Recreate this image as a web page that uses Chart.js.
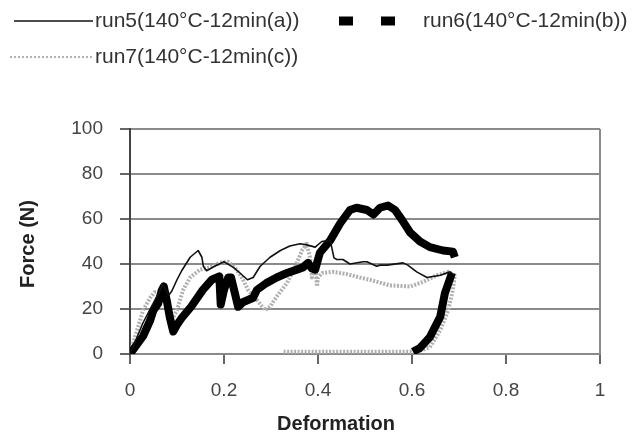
<!DOCTYPE html>
<html>
<head>
<meta charset="utf-8">
<script src="https://cdn.jsdelivr.net/npm/chart.js@4.4.1/dist/chart.umd.min.js"></script>
<style>
  html, body { margin: 0; padding: 0; background: #fff; }
  #wrap { width: 632px; height: 434px; position: relative; }
</style>
</head>
<body>
<div id="wrap"><canvas id="chart"></canvas></div>
<script>
// 軸の目盛
const xTicks = [0, 0.2, 0.4, 0.6, 0.8, 1];
const yTicks = [0, 20, 40, 60, 80, 100];

// 系列名（凡例）
const seriesNames = [
    "run5(140°C-12min(a))",
    "run6(140°C-12min(b))",
    "run7(140°C-12min(c))",
];

// run5 : 細い実線
const run5X = [0, 0.028, 0.053, 0.064, 0.068, 0.075, 0.082, 0.089, 0.1, 0.11, 0.128, 0.145, 0.153, 0.156, 0.163, 0.18, 0.2, 0.22, 0.234, 0.25, 0.262, 0.277, 0.298, 0.32, 0.34, 0.362, 0.376, 0.394, 0.408, 0.426, 0.434, 0.44, 0.453, 0.468, 0.496, 0.504, 0.525, 0.532, 0.547, 0.581, 0.591, 0.61, 0.632, 0.66, 0.681, 0.69];
const run5Y = [0, 14, 24, 28, 31, 29, 26, 28, 33, 37, 43, 46, 43, 39, 37, 39, 41, 38.5, 36, 33, 34, 39, 43, 46, 48, 49, 48.5, 47.5, 50, 50.5, 42.7, 42, 42, 40, 41, 41, 39, 39.5, 39.5, 40.5, 39.5, 36.5, 34, 35, 36.5, 35];

// run6 : 太い黒線（除荷部分は途切れて描かれている）
const run6X = [0, 0.028, 0.043, 0.05, 0.06, 0.068, 0.072, 0.078, 0.085, 0.092, 0.1, 0.11, 0.13, 0.155, 0.174, 0.19, 0.193, 0.2, 0.209, 0.215, 0.222, 0.23, 0.24, 0.262, 0.27, 0.29, 0.312, 0.334, 0.355, 0.368, 0.379, 0.387, 0.394, 0.404, 0.426, 0.447, 0.468, 0.482, 0.504, 0.518, 0.532, 0.549, 0.564, 0.579, 0.596, 0.617, 0.638, 0.666, 0.687, 0.691, 0.69, 0.685, 0.67, 0.66, 0.638, 0.617, 0.602];
const run6Y = [0, 8, 15, 19.5, 22.5, 28.5, 30, 24, 16, 10, 13, 16, 21, 28.5, 33, 34.5, 22, 28.5, 34, 34, 28, 21, 23, 25, 28.5, 31.5, 34, 36, 37.5, 38.5, 40.5, 38, 37.5, 45, 50.5, 58, 64, 65, 64, 62, 65, 66, 64, 59.5, 54, 50, 47.5, 46, 45.5, 43, null, 36, 27, 16.5, 7.5, 2.7, 1];

// run7 : 点線（灰色）
const run7X = [0, 0.015, 0.028, 0.043, 0.053, 0.065, 0.074, 0.081, 0.089, 0.1, 0.113, 0.128, 0.149, 0.17, 0.191, 0.209, 0.223, 0.238, 0.251, 0.27, 0.287, 0.298, 0.312, 0.334, 0.351, 0.366, 0.376, 0.383, 0.387, 0.394, 0.398, 0.4, 0.409, 0.432, 0.462, 0.489, 0.51, 0.553, 0.596, 0.623, 0.653, 0.677, 0.691, 0.687, 0.677, 0.66, 0.638, 0.61, 0.596, 0.46, 0.326];
const run7Y = [0, 10.5, 19.5, 25, 27.5, 28, 25, 19.5, 15, 19.5, 28.5, 34, 37.5, 38.5, 40.5, 41, 38.5, 34, 28.5, 24, 19.5, 21, 25.5, 31.5, 38.5, 46, 49, 43, 34, 38.5, 30, 34, 36, 36.5, 35.5, 34, 33, 30.5, 30, 32, 35, 36.5, 35, 28.5, 19.5, 10.5, 3, 1, 1, 1, 1];

const toPoints = (xs, ys) => xs.map((x, i) => ({ x: x, y: ys[i] }));

const FONT = "'Liberation Sans', Arial, sans-serif";

// 凡例と軸タイトルはキャンバスに直接描く（元図の配置に合わせるため）
const overlay = {
    id: "overlay",
    afterDraw(chart) {
        const ctx = chart.ctx;
        const ds = chart.data.datasets;
        const items = [
            { i: 0, x1: 14, x2: 93, y: 21, tx: 95 },
            { i: 1, x1: 339, x2: 395, y: 21, tx: 423 },
            { i: 2, x1: 10, x2: 93, y: 57, tx: 95 },
        ];
        ctx.save();
        items.forEach((it) => {
            const d = ds[it.i];
            ctx.beginPath();
            ctx.strokeStyle = d.legendColor;
            ctx.lineWidth = d.legendWidth;
            ctx.setLineDash(d.legendDash);
            ctx.lineCap = "butt";
            ctx.moveTo(it.x1, it.y);
            ctx.lineTo(it.x2, it.y);
            ctx.stroke();
            ctx.setLineDash([]);
            ctx.fillStyle = "#333";
            ctx.font = "21px " + FONT;
            ctx.textAlign = "left";
            ctx.textBaseline = "middle";
            ctx.fillText(d.label, it.tx, it.y);
        });

        ctx.fillStyle = "#222";
        ctx.font = "bold 20px " + FONT;
        ctx.textAlign = "center";
        ctx.textBaseline = "middle";
        ctx.fillText("Deformation", 336, 424);

        ctx.translate(28, 244);
        ctx.rotate(-Math.PI / 2);
        ctx.fillText("Force (N)", 0, 0);
        ctx.restore();
    },
};

new Chart(document.getElementById("chart"), {
    type: "scatter",
    data: {
        datasets: [
            {
                label: seriesNames[0],
                data: toPoints(run5X, run5Y),
                showLine: true,
                borderColor: "#111",
                borderWidth: 1.6,
                legendColor: "#111",
                legendWidth: 1.6,
                legendDash: [],
            },
            {
                label: seriesNames[1],
                data: toPoints(run6X, run6Y),
                showLine: true,
                borderColor: "#000",
                borderWidth: 8,
                legendColor: "#000",
                legendWidth: 9,
                legendDash: [14, 28],
            },
            {
                label: seriesNames[2],
                data: toPoints(run7X, run7Y),
                showLine: true,
                borderColor: "#b0b0b0",
                borderWidth: 4,
                borderDash: [2, 1.5],
                legendColor: "#999",
                legendWidth: 1.5,
                legendDash: [2, 2],
            },
        ],
    },
    options: {
        responsive: true,
        maintainAspectRatio: false,
        animation: false,
        spanGaps: false,
        layout: { padding: { top: 129, right: 32, bottom: 0, left: 0 } },
        elements: {
            point: { radius: 0, hoverRadius: 0 },
            line: { tension: 0, borderJoinStyle: "round" },
        },
        plugins: {
            legend: { display: false },
            tooltip: { enabled: false },
        },
        scales: {
            x: {
                type: "linear",
                min: 0,
                max: 1,
                afterFit: (s) => { s.height = 80; },
                afterBuildTicks: (s) => { s.ticks = xTicks.map((v) => ({ value: v })); },
                ticks: {
                    color: "#444",
                    font: { family: FONT, size: 19 },
                    padding: 15,
                    callback: (v) => String(v),
                },
                grid: {
                    color: (c) => (c.tick && c.tick.value === 1 ? "#8a8a8a" : "rgba(0,0,0,0)"),
                    lineWidth: 2,
                    tickLength: 10,
                    tickColor: "#666",
                },
                border: { color: "#8a8a8a", width: 2 },
            },
            y: {
                min: 0,
                max: 100,
                afterFit: (s) => { s.width = 130; },
                afterBuildTicks: (s) => { s.ticks = yTicks.map((v) => ({ value: v })); },
                ticks: {
                    color: "#444",
                    font: { family: FONT, size: 19 },
                    padding: 17,
                },
                grid: {
                    color: "#8a8a8a",
                    lineWidth: 2,
                    tickLength: 10,
                    tickColor: "#666",
                },
                border: { color: "#444", width: 2 },
            },
        },
    },
    plugins: [overlay],
});
</script>
</body>
</html>
